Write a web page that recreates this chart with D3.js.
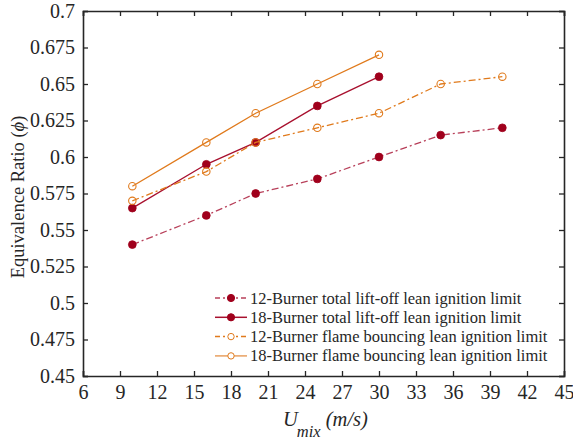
<!DOCTYPE html>
<html>
<head>
<meta charset="utf-8">
<script src="https://cdn.jsdelivr.net/npm/d3@7"></script>
</head>
<body style="margin:0;background:#fff">
<div id="chart"></div>
<script>
// flow velocities (m/s)
var uShort = [10, 16, 20, 25, 30];
var uLong = [10, 16, 20, 25, 30, 35, 40];

// lean ignition limits (equivalence ratio)
var liftoff12 = [0.54, 0.56, 0.575, 0.585, 0.6, 0.615, 0.62];
var liftoff18 = [0.565, 0.595, 0.61, 0.635, 0.655];
var bounce12 = [0.57, 0.59, 0.61, 0.62, 0.63, 0.65, 0.655];
var bounce18 = [0.58, 0.61, 0.63, 0.65, 0.67];

var seriesNames = [
  "12-Burner total lift-off lean ignition limit",
  "18-Burner total lift-off lean ignition limit",
  "12-Burner flame bouncing lean ignition limit",
  "18-Burner flame bouncing lean ignition limit"
];

var xTicks = [6, 9, 12, 15, 18, 21, 24, 27, 30, 33, 36, 39, 42, 45];
var yTicks = [0.45, 0.475, 0.5, 0.525, 0.55, 0.575, 0.6, 0.625, 0.65, 0.675, 0.7];

var red = "#a0001c", orange = "#e07a1c";

var series = [
  {name: seriesNames[0], xs: uLong, ys: liftoff12, color: red, dash: "7,3,2,3", filled: true, lineColor: "#b8405a"},
  {name: seriesNames[1], xs: uShort, ys: liftoff18, color: red, dash: null, filled: true, lineColor: "#a8102e"},
  {name: seriesNames[2], xs: uLong, ys: bounce12, color: orange, dash: "7,3,2,3", filled: false, lineColor: orange},
  {name: seriesNames[3], xs: uShort, ys: bounce18, color: orange, dash: null, filled: false, lineColor: orange}
];

var W = 573, H = 442;
var m = {left: 83, right: 9, top: 11, bottom: 66};
var FONT = "Liberation Serif";
var INK = "#262626";

var svg = d3.select("#chart").append("svg")
  .attr("width", W).attr("height", H);

var x = d3.scaleLinear().domain([6, 45]).range([m.left, W - m.right]);
var y = d3.scaleLinear().domain([0.45, 0.7]).range([H - m.bottom, m.top]);

var fmtY = function (d) { return d3.format("")(+d.toFixed(3)); };

//axes with inward ticks, mirrored on top/right
svg.append("g")
  .attr("transform", "translate(0," + (H - m.bottom) + ")")
  .call(d3.axisBottom(x).tickValues(xTicks).tickSize(-5).tickPadding(9))
  .call(styleAxis);
svg.append("g")
  .attr("transform", "translate(0," + m.top + ")")
  .call(d3.axisTop(x).tickValues(xTicks).tickSize(-5).tickFormat(""))
  .call(styleAxis);
svg.append("g")
  .attr("transform", "translate(" + m.left + ",0)")
  .call(d3.axisLeft(y).tickValues(yTicks).tickSize(-5).tickPadding(8).tickFormat(fmtY))
  .call(styleAxis);
svg.append("g")
  .attr("transform", "translate(" + (W - m.right) + ",0)")
  .call(d3.axisRight(y).tickValues(yTicks).tickSize(-5).tickFormat(""))
  .call(styleAxis);

function styleAxis(g) {
  g.attr("font-family", FONT).attr("font-size", 20);
  g.select(".domain").attr("stroke", INK).attr("stroke-width", 1.6);
  g.selectAll(".tick line").attr("stroke", INK).attr("stroke-width", 1.3);
  g.selectAll(".tick text").attr("fill", INK).attr("font-family", FONT).attr("font-size", 20);
}

var line = d3.line().x(function (d) { return x(d[0]); }).y(function (d) { return y(d[1]); });

series.forEach(function (s) {
  var pts = s.xs.map(function (v, i) { return [v, s.ys[i]]; });
  svg.append("path")
    .attr("d", line(pts))
    .attr("fill", "none")
    .attr("stroke", s.lineColor)
    .attr("stroke-width", 1.3)
    .attr("stroke-dasharray", s.dash);
  svg.selectAll(null).data(pts).enter().append("circle")
    .attr("cx", function (d) { return x(d[0]); })
    .attr("cy", function (d) { return y(d[1]); })
    .attr("r", s.filled ? 3.9 : 3.7)
    .attr("fill", s.filled ? s.color : "none")
    .attr("stroke", s.color)
    .attr("stroke-width", s.filled ? 0.8 : 1.1);
});

//legend
var legend = svg.append("g").attr("transform", "translate(215,298)");
series.forEach(function (s, i) {
  var g = legend.append("g").attr("transform", "translate(0," + (i * 19.3) + ")");
  g.append("line").attr("x1", 0).attr("x2", 32).attr("y1", 0).attr("y2", 0)
    .attr("stroke", i == 3 ? "#e8a060" : s.lineColor).attr("stroke-width", 1.5)
    .attr("stroke-dasharray", s.dash ? "5,3,2,3" : null);
  g.append("circle").attr("cx", 16).attr("cy", 0).attr("r", s.filled ? 3.6 : 3.2)
    .attr("fill", s.filled ? s.color : "#fff").attr("stroke", s.color).attr("stroke-width", 1);
  g.append("text").attr("x", 35).attr("y", 5.5)
    .attr("font-family", FONT).attr("font-size", 16.5).attr("fill", INK)
    .text(s.name);
});

//axis titles
svg.append("text")
  .attr("transform", "translate(24,197) rotate(-90)")
  .attr("text-anchor", "middle")
  .attr("font-family", FONT).attr("font-size", 18.5).attr("fill", INK)
  .html('Equivalence Ratio (<tspan font-style="italic">ϕ</tspan>)');

var xt = svg.append("text")
  .attr("x", 283).attr("y", 426)
  .attr("font-family", FONT).attr("font-size", 20.5).attr("font-style", "italic").attr("fill", INK);
xt.append("tspan").text("U");
xt.append("tspan").attr("dy", 11).attr("dx", -1).attr("font-size", 16.5).text("mix");
xt.append("tspan").attr("dy", -11).text(" (m/s)");
</script>
</body>
</html>
